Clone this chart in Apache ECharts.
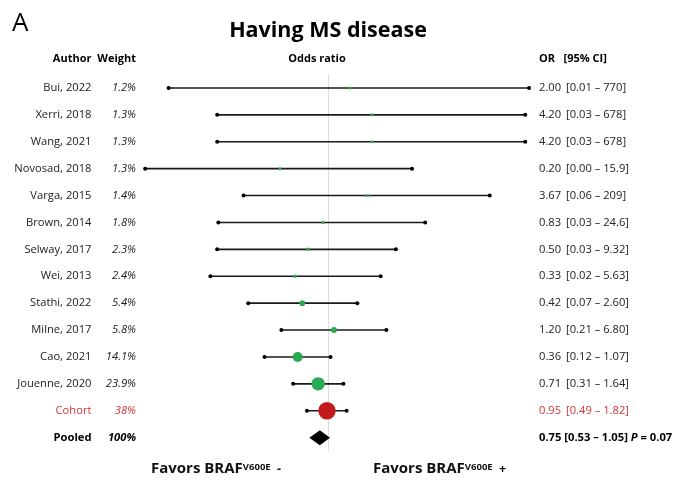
<!DOCTYPE html>
<html>
<head>
<meta charset="utf-8">
<script src="https://cdn.jsdelivr.net/npm/echarts@6/dist/echarts.min.js"></script>
<style>
  html, body { margin: 0; padding: 0; background: #fff; }
  #chart { width: 682px; height: 482px; }
</style>
</head>
<body>
<div id="chart"></div>
<script>
// Forest plot: odds ratio of having MS disease, BRAF V600E
const authors = ['Bui, 2022', 'Xerri, 2018', 'Wang, 2021', 'Novosad, 2018', 'Varga, 2015',
  'Brown, 2014', 'Selway, 2017', 'Wei, 2013', 'Stathi, 2022', 'Milne, 2017', 'Cao, 2021',
  'Jouenne, 2020', 'Cohort', 'Pooled'];
const weights = [1.2, 1.3, 1.3, 1.3, 1.4, 1.8, 2.3, 2.4, 5.4, 5.8, 14.1, 23.9, 38, 100];
const oddsRatio = [2.00, 4.20, 4.20, 0.20, 3.67, 0.83, 0.50, 0.33, 0.42, 1.20, 0.36, 0.71, 0.95, 0.75];
const ciLower = [0.005, 0.025, 0.025, 0.0023, 0.06, 0.026, 0.025, 0.02, 0.07, 0.21, 0.12, 0.31, 0.49, 0.53];
const ciUpper = [770, 678, 678, 15.9, 209, 24.6, 9.32, 5.63, 2.60, 6.80, 1.07, 1.64, 1.82, 1.05];
const ciLabels = ['[0.01 – 770]', '[0.03 – 678]', '[0.03 – 678]', '[0.00 – 15.9]', '[0.06 – 209]',
  '[0.03 – 24.6]', '[0.03 – 9.32]', '[0.02 – 5.63]', '[0.07 – 2.60]', '[0.21 – 6.80]',
  '[0.12 – 1.07]', '[0.31 – 1.64]', '[0.49 – 1.82]', '[0.53 – 1.05]'];
const pooledP = '0.07';

const FONT = '"Open Sans", "Noto Sans", sans-serif';
const TEXT = '#222';
const GREEN = '#2aaa52';
const RED_MARK = '#c21a1d';
const RED_TEXT = '#d2353a';
const ROW_FONT = 11.2;
const cohortRow = authors.indexOf('Cohort');
const pooledRow = authors.indexOf('Pooled');

const rows = authors.map((a, i) => [oddsRatio[i], i, ciLower[i], ciUpper[i], weights[i]]);

// marker grows with the study weight
function markerDiameter(w) {
  return Math.max(3, 2.2 * Math.pow(w, 0.57));
}

function renderMark(params, api) {
  const row = api.value(1);
  const pt = api.coord([api.value(0), row]);
  const lo = api.coord([api.value(2), row]);
  const hi = api.coord([api.value(3), row]);
  const y = pt[1];
  if (row === pooledRow) {
    return {
      type: 'polygon',
      shape: { points: [[lo[0], y], [pt[0], y - 7.5], [hi[0], y], [pt[0], y + 7.5]] },
      style: { fill: '#000' }
    };
  }
  const color = row === cohortRow ? RED_MARK : GREEN;
  return {
    type: 'group',
    children: [
      { type: 'line', shape: { x1: lo[0], y1: y, x2: hi[0], y2: y },
        style: { stroke: '#1a1a1a', lineWidth: 1.6 } },
      { type: 'circle', shape: { cx: lo[0], cy: y, r: 2 }, style: { fill: '#000' } },
      { type: 'circle', shape: { cx: hi[0], cy: y, r: 2 }, style: { fill: '#000' } },
      { type: 'circle', shape: { cx: pt[0], cy: y, r: markerDiameter(api.value(4)) / 2 },
        style: { fill: color } }
    ]
  };
}

function txt(x, y, text, opts) {
  const o = opts || {};
  return {
    type: 'text',
    x: x, y: y,
    style: Object.assign({
      text: text,
      fill: o.fill || TEXT,
      fontFamily: FONT,
      fontSize: o.fontSize || ROW_FONT,
      fontWeight: o.fontWeight || 'normal',
      fontStyle: o.fontStyle || 'normal',
      align: o.align || 'left',
      textAlign: o.align || 'left',
      verticalAlign: 'middle',
      textVerticalAlign: 'middle'
    }, o.extra || {})
  };
}

function renderLabels(params, api) {
  const row = api.value(1);
  const y = api.coord([1, row])[1];
  const isPooled = row === pooledRow;
  const isCohort = row === cohortRow;
  const fill = isCohort ? RED_TEXT : TEXT;
  const weight = isPooled ? 'bold' : 'normal';
  const children = [
    txt(91.5, y, authors[row], { align: 'right', fill: isPooled ? '#000' : fill, fontWeight: weight }),
    txt(136, y, String(weights[row]) + '%', { align: 'right', fill: isPooled ? '#000' : fill, fontWeight: weight, fontStyle: 'italic' })
  ];
  if (isPooled) {
    children.push(txt(539, y, '', {
      extra: {
        text: '{b|' + oddsRatio[row].toFixed(2) + ' ' + ciLabels[row] + ' }{i|P}{b| = ' + pooledP + '}',
        rich: {
          b: { fontFamily: FONT, fontSize: ROW_FONT, fontWeight: 'bold', fill: '#000', color: '#000' },
          i: { fontFamily: FONT, fontSize: ROW_FONT, fontWeight: 'bold', fontStyle: 'italic', fill: '#000', color: '#000' }
        }
      }
    }));
  } else {
    children.push(txt(539, y, oddsRatio[row].toFixed(2), { fill: fill }));
    children.push(txt(566, y, ciLabels[row], { fill: fill }));
  }
  return { type: 'group', children: children };
}

function gtext(x, y, text, style) {
  return {
    type: 'text', x: x, y: y, silent: true,
    style: Object.assign({
      text: text, fill: '#000', fontFamily: FONT,
      textVerticalAlign: 'middle', verticalAlign: 'middle'
    }, style)
  };
}

const favorsRich = {
  m: { fontFamily: FONT, fontSize: 15, fontWeight: 'bold', color: '#111', fill: '#111' },
  s: { fontFamily: FONT, fontSize: 9.5, fontWeight: 'bold', color: '#111', fill: '#111', verticalAlign: 'top', padding: [1, 0, 0, 0] },
  g: { fontFamily: FONT, fontSize: 12.5, fontWeight: 'bold', color: '#111', fill: '#111' }
};

const chart = echarts.init(document.getElementById('chart'), null, { renderer: 'canvas' });
chart.setOption({
  animation: false,
  backgroundColor: '#fff',
  grid: { left: 120, right: 145, top: 74.5, bottom: 30.9 },
  xAxis: {
    type: 'log', logBase: 10, min: 0.001, max: 1000,
    show: false, splitLine: { show: false }
  },
  yAxis: {
    type: 'value', min: -0.5, max: 13.5, inverse: true,
    show: false, splitLine: { show: false }
  },
  graphic: [
    gtext(12, 24, 'A', { fontSize: 26, fontWeight: 'normal' }),
    gtext(328, 31, 'Having MS disease', { fontSize: 21.5, fontWeight: 'bold', textAlign: 'center', align: 'center' }),
    gtext(91.5, 59, 'Author', { fontSize: 11, fontWeight: 'bold', textAlign: 'right', align: 'right' }),
    gtext(136, 59, 'Weight', { fontSize: 11, fontWeight: 'bold', textAlign: 'right', align: 'right' }),
    gtext(317, 59, 'Odds ratio', { fontSize: 11, fontWeight: 'bold', textAlign: 'center', align: 'center' }),
    gtext(539, 59, 'OR   [95% CI]', { fontSize: 11, fontWeight: 'bold', textAlign: 'left', align: 'left' }),
    gtext(151, 469, '{m|Favors BRAF}{s|V600E}{g|  -}', { rich: favorsRich }),
    gtext(373, 469, '{m|Favors BRAF}{s|V600E}{g|  +}', { rich: favorsRich })
  ],
  series: [
    {
      // line of no effect at OR = 1
      type: 'line', z: 1, silent: true, symbol: 'none',
      data: [[1, -0.5], [1, 13.5]],
      lineStyle: { color: '#dcdcdc', width: 1 }
    },
    {
      type: 'custom', z: 3, silent: true,
      renderItem: renderMark,
      encode: { x: [0, 2, 3], y: 1 },
      data: rows
    },
    {
      type: 'custom', z: 4, silent: true, clip: false,
      renderItem: renderLabels,
      encode: { x: 0, y: 1 },
      data: rows
    }
  ]
});
</script>
</body>
</html>
